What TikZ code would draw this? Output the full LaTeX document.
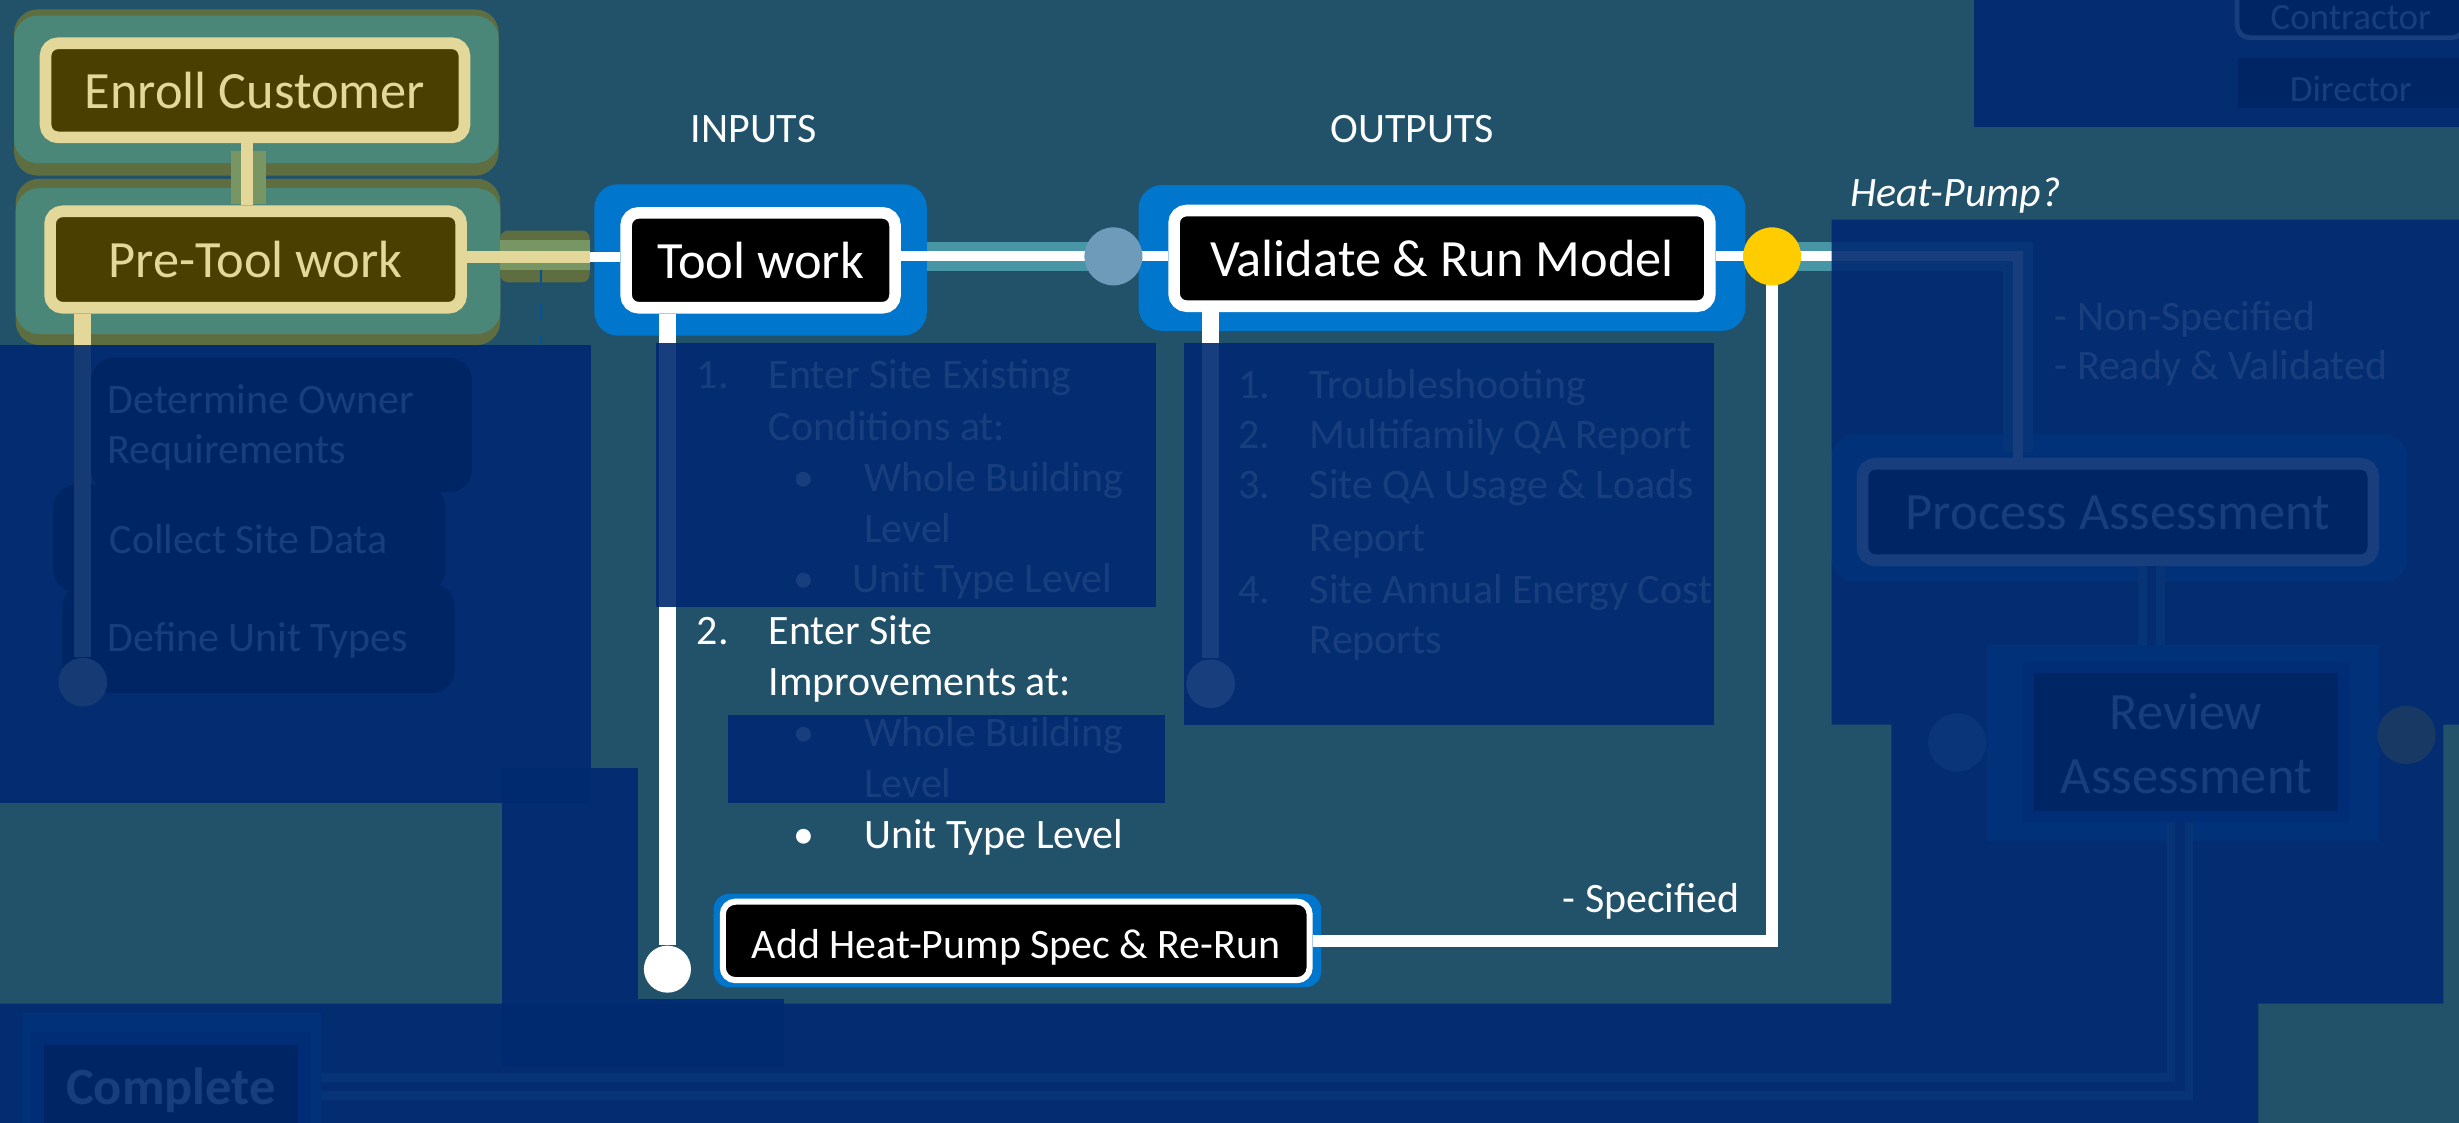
\documentclass[tikz,border=0pt]{standalone}
\usepackage{fontspec}
\setmainfont{Carlito}
\usetikzlibrary{positioning}
\definecolor{slidebg}{RGB}{34,82,106}
\definecolor{veilblue}{RGB}{0,42,113}
\definecolor{boxblue}{RGB}{0,118,204}
\definecolor{cream}{RGB}{227,215,153}
\definecolor{oliveink}{RGB}{74,62,0}
\definecolor{grpteal}{RGB}{75,135,120}
\definecolor{grpolive}{RGB}{95,110,65}
\definecolor{patchgreen}{RGB}{120,150,100}
\definecolor{bandteal}{RGB}{72,150,165}
\definecolor{waygrey}{RGB}{110,155,185}
\definecolor{hpyellow}{RGB}{255,204,0}
\definecolor{ringblue}{RGB}{0,75,170}
\definecolor{dashblue}{RGB}{0,85,150}
\newcommand\stagefont{\fontsize{9.5}{11.6}\selectfont}
\newcommand\notefont{\fontsize{7.6}{9.3}\selectfont}
\newcommand\tinyfont{\fontsize{6.7}{8.2}\selectfont}

\begin{document}
\begin{tikzpicture}[x=0.01cm, y=-0.01cm,
    stage/.style={rectangle, rounded corners=0.08cm, draw=white, line width=2.1pt, fill=black, text=white, font=\stagefont, inner sep=0pt, text height=0.65em, text depth=0pt},
    prestage/.style={stage, draw=cream, fill=oliveink, text=cream},
    endstage/.style={stage, rounded corners=0pt, draw=ringblue, line width=2pt},
    taskbox/.style={rectangle, rounded corners=0.15cm, fill=black, inner sep=0pt},
    note/.style={font=\notefont, text=white, inner sep=0pt, anchor=base west},
    dot/.style={circle, inner sep=0pt, minimum size=0.37cm},
    enddot/.style={circle, inner sep=0pt, minimum size=0.31cm},
    wire/.style={draw=white, line width=1.8pt},
    drop/.style={draw=white, line width=3.1pt},
    band/.style={draw=bandteal, line width=5.4pt},
    unlit/.style={draw=bandteal, line width=1.57pt, double=slidebg, double distance=1.7pt},
    veil/.style={fill=veilblue, fill opacity=0.9}]

    \useasboundingbox (0,0) rectangle (1568,716);
    \clip (0,0) rectangle (1568,716);
    \fill[slidebg] (0,0) rectangle (1568,716);

    \fill[grpolive, rounded corners=0.15cm] (9,6) rectangle (318,112);
    \fill[grpteal, rounded corners=0.15cm] (9,10) rectangle (318,104);
    \fill[grpolive, rounded corners=0.15cm] (10,114) rectangle (319,220);
    \fill[grpteal, rounded corners=0.15cm] (10,120) rectangle (319,213);
    \fill[patchgreen] (147,96) rectangle (169.5,130);
    \fill[grpolive, rounded corners=0.05cm] (319,147) rectangle (376,180);
    \fill[patchgreen] (319,153) rectangle (376,172);
    \draw[dashblue, dashed, line width=0.5pt] (345,172) -- (345,219);

    \node[taskbox, minimum width=2.43cm, minimum height=0.86cm] (owner) at (179.5,271) {};
    \node[taskbox, minimum width=2.50cm, minimum height=0.69cm] (collect) at (159,343.5) {};
    \node[taskbox, minimum width=2.50cm, minimum height=0.70cm] (units) at (165,407) {};
    \node[note] (ownertxt) at (68.1,263.5) {Determine Owner};
    \node[note] (ownertxt2) at (68.1,295.4) {Requirements};
    \node[note] (collecttxt) at (69.4,352.9) {Collect Site Data};
    \node[note] (unitstxt) at (68.1,415.6) {Define Unit Types};

    \node[prestage, minimum width=2.67cm, minimum height=0.60cm] (enroll) at (162.6,57.6) {Enroll Customer};
    \node[prestage, minimum width=2.62cm, minimum height=0.615cm] (pretool) at (163,165.5) {Pre-Tool work};
    \draw[cream, line width=2.16pt] ([xshift=-0.05cm]enroll.south) -- ([xshift=-0.05cm]enroll.south |- pretool.north);
    \node[enddot, fill=cream] (ptend) at (52.8,435) {};
    \draw[cream, line width=3.1pt] (pretool.south -| ptend) -- (ptend);

    \coordinate (w1) at (710,163.5);
    \draw[band] (560,163.5) -- (w1);
    \fill[boxblue, rounded corners=0.15cm] (379,117.5) rectangle (591,214);
    \node[stage, minimum width=1.714cm, minimum height=0.605cm] (toolwork) at (485,166) {Tool work};
    \coordinate (ptjoin) at (376,164);
    \draw[cream, line width=2.16pt] (pretool.east |- ptjoin) -- (ptjoin);
    \draw[wire] (ptjoin) -- (toolwork.west |- ptjoin);

    \fill[boxblue, rounded corners=0.15cm] (726,118) rectangle (1113,211);
    \node[stage, minimum width=3.415cm, minimum height=0.61cm] (validate) at (919.5,164.75) {Validate \& Run Model};
    \draw[wire] (toolwork.east |- w1) -- (w1) -- (validate.west |- w1);
    \node[dot, fill=waygrey] (way1) at (w1) {};

    \coordinate (yc) at (1130,163.5);
    \coordinate (pain) at (1287,288);
    \fill[boxblue, rounded corners=0.15cm] (1168,277) rectangle (1535,371);
    \draw[band] (yc) -| (pain);
    \node[stage, minimum width=3.255cm, minimum height=0.615cm] (process) at (1350.5,326.5) {Process Assessment};
    \draw[wire] (validate.east |- yc) -- (yc) -| (process.north -| pain);

    \fill[boxblue, rounded corners=0.1cm] (455,570) rectangle (842.5,629.5);
    \node[stage, font=\notefont, line width=1.1pt, minimum width=3.74cm, minimum height=0.50cm] (heatpump) at (648,600) {Add Heat-Pump Spec \& Re-Run};
    \draw[wire, line width=2.16pt] (yc) |- (heatpump.east);
    \node[dot, fill=hpyellow] (yellow) at (yc) {};

    \node[enddot, minimum size=0.30cm, fill=white] (twend) at (425.6,618) {};
    \draw[drop] (toolwork.south -| twend) -- (twend);
    \node[enddot, fill=white] (vdend) at (772,436) {};
    \draw[drop] (validate.south -| vdend) -- (vdend);

    \node[note, anchor=base] (inputs) at (480.5,90.6) {INPUTS};
    \node[note, anchor=base] (outputs) at (900.5,90.6) {OUTPUTS};
    \node[note, font=\notefont\itshape] (hpq) at (1179,131.5) {Heat-Pump?};
    \node[note, anchor=base east] (spec) at (1110,581.6) {- Specified};

    \node[note] (in1) at (443.6,247.6) {1.};
    \node[note] (in2) at (443.6,410.7) {2.};
    \foreach \y [count=\i] in {313.6,378,476,541}
        \node[note] (inb\i) at (505,\y) {\textbullet};
    \foreach \y/\x/\txt [count=\i] in {247.6/489.5/{Enter Site Existing}, 280.6/489.5/{Conditions at:},
        313.6/550.4/{Whole Building}, 346/550.4/Level, 378/543.2/{Unit Type Level},
        410.7/489.5/{Enter Site}, 443.3/489.5/{Improvements at:}, 476/550.4/{Whole Building},
        508.5/550.4/Level, 541/550.4/{Unit Type Level}}
        \node[note] (inl\i) at (\x,\y) {\txt};

    \foreach \y/\lbl [count=\i] in {253.8/1., 286/2., 318/3., 384.7/4.}
        \node[note] (outn\i) at (788.8,\y) {\lbl};
    \foreach \y/\txt [count=\i] in {253.8/Troubleshooting, 286/{Multifamily QA Report},
        318/{Site QA Usage \& Loads}, 351.5/Report, 384.7/{Site Annual Energy Cost}, 417/Reports}
        \node[note] (outl\i) at (834.6,\y) {\txt};

    \node[note] (nonspec) at (1309.5,210.5) {- Non-Specified};
    \node[note] (readyval) at (1309.5,242) {- Ready \& Validated};

    \coordinate (prlink) at (1372,0);
    \draw[unlit] (process.south -| prlink) -- (1372,411);
    \fill[boxblue] (1267,411) rectangle (1517,536);
    \node[endstage, minimum width=2.01cm, minimum height=0.95cm, align=center, text height=1.865em] (review) at (1394,473) {Review\\Assessment};
    \draw[unlit] ([xshift=-0.04cm]review.south) |- (109,693);
    \fill[boxblue] (14,646) rectangle (205,760);
    \node[endstage, line width=2.4pt, minimum width=1.70cm, minimum height=0.62cm] (complete) at (109,693) {\textbf{Complete}};
    \node[dot, fill=waygrey] (way2) at (1248,473.5) {};
    \node[dot, fill=hpyellow] (yellow2) at (1534.5,468.7) {};

    \node[stage, font=\tinyfont, line width=0.85pt, minimum width=1.45cm, minimum height=0.333cm] (contractor) at (1499,7.35) {Contractor};
    \node[stage, font=\tinyfont, draw=none, rounded corners=0pt, minimum width=1.44cm, minimum height=0.32cm] (director) at (1499,53) {Director};

    \fill[veil] (0,220) rectangle (377,512);
    \fill[veil] (418,219) rectangle (737,387);
    \fill[veil] (464,456) rectangle (743,512);
    \fill[veil] (755,219) rectangle (1093,462);
    \fill[veil] (1168,140) -- (1568,140) -- (1568,462) -- (1558,462) -- (1558,640) -- (1440,640)
        -- (1440,716) -- (0,716) -- (0,640) -- (1206,640) -- (1206,462) -- (1168,462) -- cycle;
    \fill[veil] (320,490) rectangle (407,680);
    \fill[veil] (407,637) rectangle (500,680);
    \fill[veil] (1259,0) rectangle (1568,81);

\end{tikzpicture}
\end{document}
